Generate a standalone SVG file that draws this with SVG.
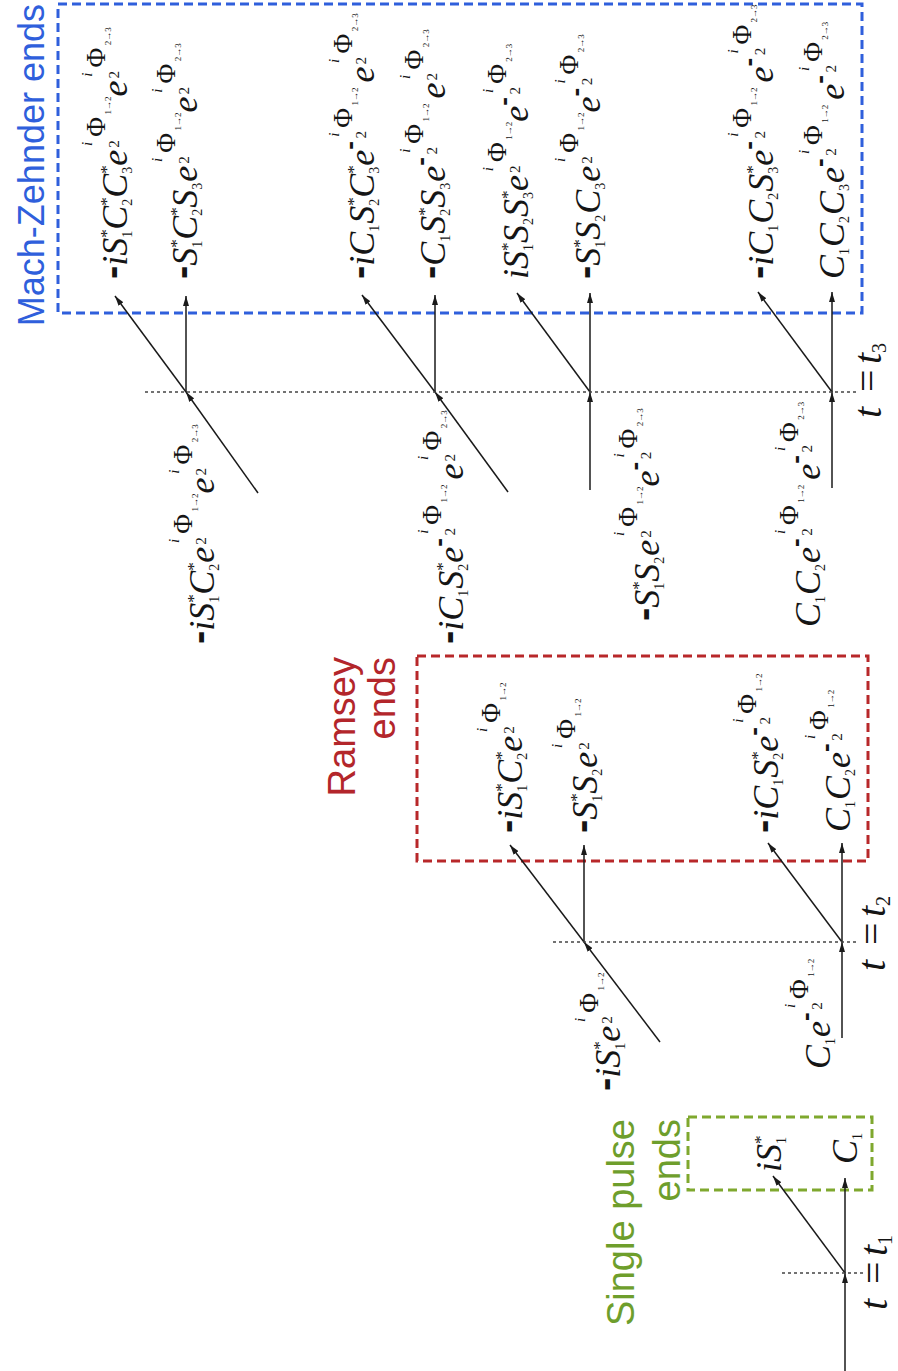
<svg xmlns="http://www.w3.org/2000/svg" width="898" height="1371" viewBox="0 0 898 1371">
<defs>
<marker id="ah" viewBox="0 0 10 6" refX="10" refY="3" markerWidth="10" markerHeight="6" markerUnits="userSpaceOnUse" orient="auto"><path d="M0,0 L10,3 L0,6 z" fill="#1a1a1a"/></marker>
<style>
.m{font-family:"Liberation Serif","Times New Roman",serif;font-style:italic;font-size:36px;fill:#151515}
.s{font-style:normal;font-size:17px}
.b{font-style:normal;font-size:14px}
.f{font-style:normal;font-size:15px}
.fi{font-size:15px}
.P{font-style:normal;font-size:27px}
.t{font-style:normal;font-size:9px}
.ts{font-style:normal;font-size:20px}
.d{font-family:"Liberation Sans",Arial,sans-serif;font-weight:bold;font-style:normal;font-size:40px}
.de{font-family:"Liberation Sans",Arial,sans-serif;font-weight:bold;font-style:normal;font-size:26px}
.ln{stroke:#1a1a1a;stroke-width:1.5;fill:none;marker-end:url(#ah)}
.dot{stroke:#444;stroke-width:1.3;stroke-dasharray:3 3;fill:none}
.box{fill:none;stroke-width:3;stroke-dasharray:9 5}
.cap{font-family:"Liberation Sans",Arial,sans-serif;font-size:38px}
.tl{font-family:"Liberation Serif","Times New Roman",serif;font-style:italic;font-size:40px;fill:#151515}
</style>
</defs>
<rect width="898" height="1371" fill="#ffffff"/>

<g id="boxes">
<rect id="mz-box" class="box" x="58" y="4" width="804" height="309" stroke="#2f5fdc"/>
<rect id="ramsey-box" class="box" x="417" y="656" width="451" height="205" stroke="#b8282a"/>
<rect id="single-box" class="box" x="688" y="1117" width="184" height="73" stroke="#7fa82e"/>
</g>

<g id="captions">
<g id="cap-mz" transform="translate(44,4) rotate(-90)"><text class="cap" style="font-size:36px" text-anchor="end" fill="#2f5fdc">Mach-Zehnder ends</text></g>
<g id="cap-ramsey" fill="#b3262b"><text class="cap" text-anchor="end" transform="translate(355,657) rotate(-90)">Ramsey</text><text class="cap" text-anchor="end" transform="translate(395,657) rotate(-90)">ends</text></g>
<g id="cap-single" fill="#6e9e2c"><text class="cap" text-anchor="end" transform="translate(634,1119) rotate(-90)">Single pulse</text><text class="cap" text-anchor="end" transform="translate(680,1119) rotate(-90)">ends</text></g>
</g>

<g id="connectors">
<line class="ln" x1="845" y1="1371" x2="845" y2="1273"/>
<line class="ln" x1="845" y1="1273" x2="845" y2="1178"/>
<line class="ln" x1="845" y1="1273" x2="773" y2="1176"/>
<line class="ln" x1="660" y1="1042" x2="584" y2="942"/>
<line class="ln" x1="584" y1="942" x2="584" y2="845"/>
<line class="ln" x1="584" y1="942" x2="510" y2="845"/>
<line class="ln" x1="842" y1="1038" x2="842" y2="942"/>
<line class="ln" x1="842" y1="942" x2="842" y2="843"/>
<line class="ln" x1="842" y1="942" x2="768" y2="843"/>
<line class="ln" x1="258" y1="493" x2="186" y2="392"/>
<line class="ln" x1="186" y1="392" x2="186" y2="296"/>
<line class="ln" x1="186" y1="392" x2="115" y2="296"/>
<line class="ln" x1="508" y1="492" x2="435" y2="392"/>
<line class="ln" x1="435" y1="392" x2="435" y2="295"/>
<line class="ln" x1="435" y1="392" x2="362" y2="295"/>
<line class="ln" x1="590" y1="490" x2="590" y2="392"/>
<line class="ln" x1="590" y1="392" x2="590" y2="293"/>
<line class="ln" x1="590" y1="392" x2="517" y2="293"/>
<line class="ln" x1="832" y1="488" x2="832" y2="392"/>
<line class="ln" x1="832" y1="392" x2="832" y2="292"/>
<line class="ln" x1="832" y1="392" x2="758" y2="292"/>
<line class="dot" x1="782" y1="1273" x2="863" y2="1273"/>
<line class="dot" x1="553" y1="942" x2="858" y2="942"/>
<line class="dot" x1="145" y1="392" x2="857" y2="392"/>
</g>

<g id="time-labels">
<g id="t1" transform="translate(887,1312) rotate(-90)"><text class="tl"><tspan x="2">t</tspan><tspan x="28" style="font-style:normal">=</tspan><tspan x="56">t</tspan><tspan class="ts" y="5">1</tspan></text></g>
<g id="t2" transform="translate(885,973) rotate(-90)"><text class="tl"><tspan x="2">t</tspan><tspan x="28" style="font-style:normal">=</tspan><tspan x="56">t</tspan><tspan class="ts" y="5">2</tspan></text></g>
<g id="t3" transform="translate(881,420) rotate(-90)"><text class="tl"><tspan x="2">t</tspan><tspan x="28" style="font-style:normal">=</tspan><tspan x="56">t</tspan><tspan class="ts" y="5">3</tspan></text></g>
</g>

<g id="single-outputs">
<g id="sp-out1" transform="translate(781,1172) rotate(-90)"><text class="m"><tspan>i</tspan><tspan>S</tspan><tspan class="s" y="-15">*</tspan><tspan class="b" dx="-8.5" y="5">1</tspan></text></g>
<g id="sp-out2" transform="translate(857,1164) rotate(-90)"><text class="m"><tspan>C</tspan><tspan class="b" y="5">1</tspan></text></g>
</g>

<g id="t2-inputs">
<g id="r-in1" transform="translate(620,1091) rotate(-90)"><text class="m"><tspan class="d" y="-2">-</tspan><tspan y="0">i</tspan><tspan y="0">S</tspan><tspan class="s" y="-15">*</tspan><tspan class="b" dx="-8.5" y="5">1</tspan><tspan dx="1" y="0">e</tspan><tspan class="f" dx="2" y="-8">2</tspan><tspan class="fi" dx="-5.85" y="-35">i</tspan><tspan class="P" dx="5.15" y="-22">Φ</tspan><tspan class="t" dx="2.5" y="-16">1→2</tspan></text></g>
<g id="r-in2" transform="translate(830,1069) rotate(-90)"><text class="m"><tspan>C</tspan><tspan class="b" y="5">1</tspan><tspan dx="1" y="0">e</tspan><tspan class="de" y="-16">-</tspan><tspan class="f" dx="2.6" y="-8">2</tspan><tspan class="fi" dx="-5.85" y="-35">i</tspan><tspan class="P" dx="4.9" y="-22">Φ</tspan><tspan class="t" dx="2.4" y="-16">1→2</tspan></text></g>
</g>

<g id="ramsey-outputs">
<g id="r-out1" transform="translate(522,833) rotate(-90)"><text class="m"><tspan class="d" y="-2">-</tspan><tspan y="0">i</tspan><tspan y="0">S</tspan><tspan class="s" y="-15">*</tspan><tspan class="b" dx="-8.5" y="5">1</tspan><tspan dx="1" y="0">C</tspan><tspan class="s" y="-15">*</tspan><tspan class="b" dx="-8.5" y="5">2</tspan><tspan dx="1" y="0">e</tspan><tspan class="f" dx="2" y="-8">2</tspan><tspan class="fi" dx="-5.85" y="-35">i</tspan><tspan class="P" dx="5.15" y="-22">Φ</tspan><tspan class="t" dx="2.5" y="-16">1→2</tspan></text></g>
<g id="r-out2" transform="translate(597,833) rotate(-90)"><text class="m"><tspan class="d" y="-2">-</tspan><tspan y="0">S</tspan><tspan class="s" y="-15">*</tspan><tspan class="b" dx="-8.5" y="5">1</tspan><tspan dx="1" y="0">S</tspan><tspan class="b" y="5">2</tspan><tspan dx="1" y="0">e</tspan><tspan class="f" dx="2" y="-8">2</tspan><tspan class="fi" dx="-5.85" y="-35">i</tspan><tspan class="P" dx="5.15" y="-22">Φ</tspan><tspan class="t" dx="2.5" y="-16">1→2</tspan></text></g>
<g id="r-out3" transform="translate(778,833) rotate(-90)"><text class="m"><tspan class="d" y="-2">-</tspan><tspan y="0">i</tspan><tspan y="0">C</tspan><tspan class="b" y="5">1</tspan><tspan dx="1" y="0">S</tspan><tspan class="s" y="-15">*</tspan><tspan class="b" dx="-8.5" y="5">2</tspan><tspan dx="1" y="0">e</tspan><tspan class="de" y="-16">-</tspan><tspan class="f" dx="2.6" y="-8">2</tspan><tspan class="fi" dx="-5.85" y="-35">i</tspan><tspan class="P" dx="4.9" y="-22">Φ</tspan><tspan class="t" dx="2.4" y="-16">1→2</tspan></text></g>
<g id="r-out4" transform="translate(850,832) rotate(-90)"><text class="m"><tspan>C</tspan><tspan class="b" y="5">1</tspan><tspan dx="1" y="0">C</tspan><tspan class="b" y="5">2</tspan><tspan dx="1" y="0">e</tspan><tspan class="de" y="-16">-</tspan><tspan class="f" dx="2.6" y="-8">2</tspan><tspan class="fi" dx="-5.85" y="-35">i</tspan><tspan class="P" dx="4.9" y="-22">Φ</tspan><tspan class="t" dx="2.4" y="-16">1→2</tspan></text></g>
</g>

<g id="t3-inputs">
<g id="m-in1" transform="translate(214,644) rotate(-90)"><text class="m"><tspan class="d" y="-2">-</tspan><tspan y="0">i</tspan><tspan y="0">S</tspan><tspan class="s" y="-15">*</tspan><tspan class="b" dx="-8.5" y="5">1</tspan><tspan dx="1" y="0">C</tspan><tspan class="s" y="-15">*</tspan><tspan class="b" dx="-8.5" y="5">2</tspan><tspan dx="1" y="0">e</tspan><tspan class="f" dx="2" y="-8">2</tspan><tspan class="fi" dx="-5.85" y="-35">i</tspan><tspan class="P" dx="5.15" y="-22">Φ</tspan><tspan class="t" dx="2.5" y="-16">1→2</tspan><tspan y="0">e</tspan><tspan class="f" dx="2" y="-8">2</tspan><tspan class="fi" dx="-5.85" y="-35">i</tspan><tspan class="P" dx="5.15" y="-22">Φ</tspan><tspan class="t" dx="2.5" y="-16">2→3</tspan></text></g>
<g id="m-in2" transform="translate(463,644) rotate(-90)"><text class="m"><tspan class="d" y="-2">-</tspan><tspan y="0">i</tspan><tspan y="0">C</tspan><tspan class="b" y="5">1</tspan><tspan dx="1" y="0">S</tspan><tspan class="s" y="-15">*</tspan><tspan class="b" dx="-8.5" y="5">2</tspan><tspan dx="1" y="0">e</tspan><tspan class="de" y="-16">-</tspan><tspan class="f" dx="2.6" y="-8">2</tspan><tspan class="fi" dx="-5.85" y="-35">i</tspan><tspan class="P" dx="4.9" y="-22">Φ</tspan><tspan class="t" dx="2.4" y="-16">1→2</tspan><tspan dx="5" y="0">e</tspan><tspan class="f" dx="2" y="-8">2</tspan><tspan class="fi" dx="-5.85" y="-35">i</tspan><tspan class="P" dx="5.15" y="-22">Φ</tspan><tspan class="t" dx="2.5" y="-16">2→3</tspan></text></g>
<g id="m-in3" transform="translate(659,621) rotate(-90)"><text class="m"><tspan class="d" y="-2">-</tspan><tspan y="0">S</tspan><tspan class="s" y="-15">*</tspan><tspan class="b" dx="-8.5" y="5">1</tspan><tspan dx="1" y="0">S</tspan><tspan class="b" y="5">2</tspan><tspan dx="1" y="0">e</tspan><tspan class="f" dx="2" y="-8">2</tspan><tspan class="fi" dx="-5.85" y="-35">i</tspan><tspan class="P" dx="5.15" y="-22">Φ</tspan><tspan class="t" dx="2.5" y="-16">1→2</tspan><tspan y="0">e</tspan><tspan class="de" y="-16">-</tspan><tspan class="f" dx="2.6" y="-8">2</tspan><tspan class="fi" dx="-5.85" y="-35">i</tspan><tspan class="P" dx="4.9" y="-22">Φ</tspan><tspan class="t" dx="2.4" y="-16">2→3</tspan></text></g>
<g id="m-in4" transform="translate(820,627) rotate(-90)"><text class="m"><tspan>C</tspan><tspan class="b" y="5">1</tspan><tspan dx="1" y="0">C</tspan><tspan class="b" y="5">2</tspan><tspan dx="1" y="0">e</tspan><tspan class="de" y="-16">-</tspan><tspan class="f" dx="2.6" y="-8">2</tspan><tspan class="fi" dx="-5.85" y="-35">i</tspan><tspan class="P" dx="4.9" y="-22">Φ</tspan><tspan class="t" dx="2.4" y="-16">1→2</tspan><tspan dx="5" y="0">e</tspan><tspan class="de" y="-16">-</tspan><tspan class="f" dx="2.6" y="-8">2</tspan><tspan class="fi" dx="-5.85" y="-35">i</tspan><tspan class="P" dx="4.9" y="-22">Φ</tspan><tspan class="t" dx="2.4" y="-16">2→3</tspan></text></g>
</g>

<g id="mz-outputs">
<g id="mz-out1" transform="translate(127,279) rotate(-90)"><text class="m"><tspan class="d" y="-2">-</tspan><tspan y="0">i</tspan><tspan y="0">S</tspan><tspan class="s" y="-15">*</tspan><tspan class="b" dx="-8.5" y="5">1</tspan><tspan dx="1" y="0">C</tspan><tspan class="s" y="-15">*</tspan><tspan class="b" dx="-8.5" y="5">2</tspan><tspan dx="1" y="0">C</tspan><tspan class="s" y="-15">*</tspan><tspan class="b" dx="-8.5" y="5">3</tspan><tspan dx="1" y="0">e</tspan><tspan class="f" dx="2" y="-8">2</tspan><tspan class="fi" dx="-5.85" y="-35">i</tspan><tspan class="P" dx="5.15" y="-22">Φ</tspan><tspan class="t" dx="2.5" y="-16">1→2</tspan><tspan y="0">e</tspan><tspan class="f" dx="2" y="-8">2</tspan><tspan class="fi" dx="-5.85" y="-35">i</tspan><tspan class="P" dx="5.15" y="-22">Φ</tspan><tspan class="t" dx="2.5" y="-16">2→3</tspan></text></g>
<g id="mz-out2" transform="translate(197,279) rotate(-90)"><text class="m"><tspan class="d" y="-2">-</tspan><tspan y="0">S</tspan><tspan class="s" y="-15">*</tspan><tspan class="b" dx="-8.5" y="5">1</tspan><tspan dx="1" y="0">C</tspan><tspan class="s" y="-15">*</tspan><tspan class="b" dx="-8.5" y="5">2</tspan><tspan dx="1" y="0">S</tspan><tspan class="b" y="5">3</tspan><tspan dx="1" y="0">e</tspan><tspan class="f" dx="2" y="-8">2</tspan><tspan class="fi" dx="-5.85" y="-35">i</tspan><tspan class="P" dx="5.15" y="-22">Φ</tspan><tspan class="t" dx="2.5" y="-16">1→2</tspan><tspan y="0">e</tspan><tspan class="f" dx="2" y="-8">2</tspan><tspan class="fi" dx="-5.85" y="-35">i</tspan><tspan class="P" dx="5.15" y="-22">Φ</tspan><tspan class="t" dx="2.5" y="-16">2→3</tspan></text></g>
<g id="mz-out3" transform="translate(374,279) rotate(-90)"><text class="m"><tspan class="d" y="-2">-</tspan><tspan y="0">i</tspan><tspan y="0">C</tspan><tspan class="b" y="5">1</tspan><tspan dx="1" y="0">S</tspan><tspan class="s" y="-15">*</tspan><tspan class="b" dx="-8.5" y="5">2</tspan><tspan dx="1" y="0">C</tspan><tspan class="s" y="-15">*</tspan><tspan class="b" dx="-8.5" y="5">3</tspan><tspan dx="1" y="0">e</tspan><tspan class="de" y="-16">-</tspan><tspan class="f" dx="2.6" y="-8">2</tspan><tspan class="fi" dx="-5.85" y="-35">i</tspan><tspan class="P" dx="4.9" y="-22">Φ</tspan><tspan class="t" dx="2.4" y="-16">1→2</tspan><tspan dx="5" y="0">e</tspan><tspan class="f" dx="2" y="-8">2</tspan><tspan class="fi" dx="-5.85" y="-35">i</tspan><tspan class="P" dx="5.15" y="-22">Φ</tspan><tspan class="t" dx="2.5" y="-16">2→3</tspan></text></g>
<g id="mz-out4" transform="translate(445,279) rotate(-90)"><text class="m"><tspan class="d" y="-2">-</tspan><tspan y="0">C</tspan><tspan class="b" y="5">1</tspan><tspan dx="1" y="0">S</tspan><tspan class="s" y="-15">*</tspan><tspan class="b" dx="-8.5" y="5">2</tspan><tspan dx="1" y="0">S</tspan><tspan class="b" y="5">3</tspan><tspan dx="1" y="0">e</tspan><tspan class="de" y="-16">-</tspan><tspan class="f" dx="2.6" y="-8">2</tspan><tspan class="fi" dx="-5.85" y="-35">i</tspan><tspan class="P" dx="4.9" y="-22">Φ</tspan><tspan class="t" dx="2.4" y="-16">1→2</tspan><tspan dx="5" y="0">e</tspan><tspan class="f" dx="2" y="-8">2</tspan><tspan class="fi" dx="-5.85" y="-35">i</tspan><tspan class="P" dx="5.15" y="-22">Φ</tspan><tspan class="t" dx="2.5" y="-16">2→3</tspan></text></g>
<g id="mz-out5" transform="translate(528,279) rotate(-90)"><text class="m"><tspan>i</tspan><tspan>S</tspan><tspan class="s" y="-15">*</tspan><tspan class="b" dx="-8.5" y="5">1</tspan><tspan dx="1" y="0">S</tspan><tspan class="b" y="5">2</tspan><tspan dx="1" y="0">S</tspan><tspan class="s" y="-15">*</tspan><tspan class="b" dx="-8.5" y="5">3</tspan><tspan dx="1" y="0">e</tspan><tspan class="f" dx="2" y="-8">2</tspan><tspan class="fi" dx="-5.85" y="-35">i</tspan><tspan class="P" dx="5.15" y="-22">Φ</tspan><tspan class="t" dx="2.5" y="-16">1→2</tspan><tspan y="0">e</tspan><tspan class="de" y="-16">-</tspan><tspan class="f" dx="2.6" y="-8">2</tspan><tspan class="fi" dx="-5.85" y="-35">i</tspan><tspan class="P" dx="4.9" y="-22">Φ</tspan><tspan class="t" dx="2.4" y="-16">2→3</tspan></text></g>
<g id="mz-out6" transform="translate(600,279) rotate(-90)"><text class="m"><tspan class="d" y="-2">-</tspan><tspan y="0">S</tspan><tspan class="s" y="-15">*</tspan><tspan class="b" dx="-8.5" y="5">1</tspan><tspan dx="1" y="0">S</tspan><tspan class="b" y="5">2</tspan><tspan dx="1" y="0">C</tspan><tspan class="b" y="5">3</tspan><tspan dx="1" y="0">e</tspan><tspan class="f" dx="2" y="-8">2</tspan><tspan class="fi" dx="-5.85" y="-35">i</tspan><tspan class="P" dx="5.15" y="-22">Φ</tspan><tspan class="t" dx="2.5" y="-16">1→2</tspan><tspan y="0">e</tspan><tspan class="de" y="-16">-</tspan><tspan class="f" dx="2.6" y="-8">2</tspan><tspan class="fi" dx="-5.85" y="-35">i</tspan><tspan class="P" dx="4.9" y="-22">Φ</tspan><tspan class="t" dx="2.4" y="-16">2→3</tspan></text></g>
<g id="mz-out7" transform="translate(773,279) rotate(-90)"><text class="m"><tspan class="d" y="-2">-</tspan><tspan y="0">i</tspan><tspan y="0">C</tspan><tspan class="b" y="5">1</tspan><tspan dx="1" y="0">C</tspan><tspan class="b" y="5">2</tspan><tspan dx="1" y="0">S</tspan><tspan class="s" y="-15">*</tspan><tspan class="b" dx="-8.5" y="5">3</tspan><tspan dx="1" y="0">e</tspan><tspan class="de" y="-16">-</tspan><tspan class="f" dx="2.6" y="-8">2</tspan><tspan class="fi" dx="-5.85" y="-35">i</tspan><tspan class="P" dx="4.9" y="-22">Φ</tspan><tspan class="t" dx="2.4" y="-16">1→2</tspan><tspan dx="5" y="0">e</tspan><tspan class="de" y="-16">-</tspan><tspan class="f" dx="2.6" y="-8">2</tspan><tspan class="fi" dx="-5.85" y="-35">i</tspan><tspan class="P" dx="4.9" y="-22">Φ</tspan><tspan class="t" dx="2.4" y="-16">2→3</tspan></text></g>
<g id="mz-out8" transform="translate(844,279) rotate(-90)"><text class="m"><tspan>C</tspan><tspan class="b" y="5">1</tspan><tspan dx="1" y="0">C</tspan><tspan class="b" y="5">2</tspan><tspan dx="1" y="0">C</tspan><tspan class="b" y="5">3</tspan><tspan dx="1" y="0">e</tspan><tspan class="de" y="-16">-</tspan><tspan class="f" dx="2.6" y="-8">2</tspan><tspan class="fi" dx="-5.85" y="-35">i</tspan><tspan class="P" dx="4.9" y="-22">Φ</tspan><tspan class="t" dx="2.4" y="-16">1→2</tspan><tspan dx="5" y="0">e</tspan><tspan class="de" y="-16">-</tspan><tspan class="f" dx="2.6" y="-8">2</tspan><tspan class="fi" dx="-5.85" y="-35">i</tspan><tspan class="P" dx="4.9" y="-22">Φ</tspan><tspan class="t" dx="2.4" y="-16">2→3</tspan></text></g>
</g>
</svg>
